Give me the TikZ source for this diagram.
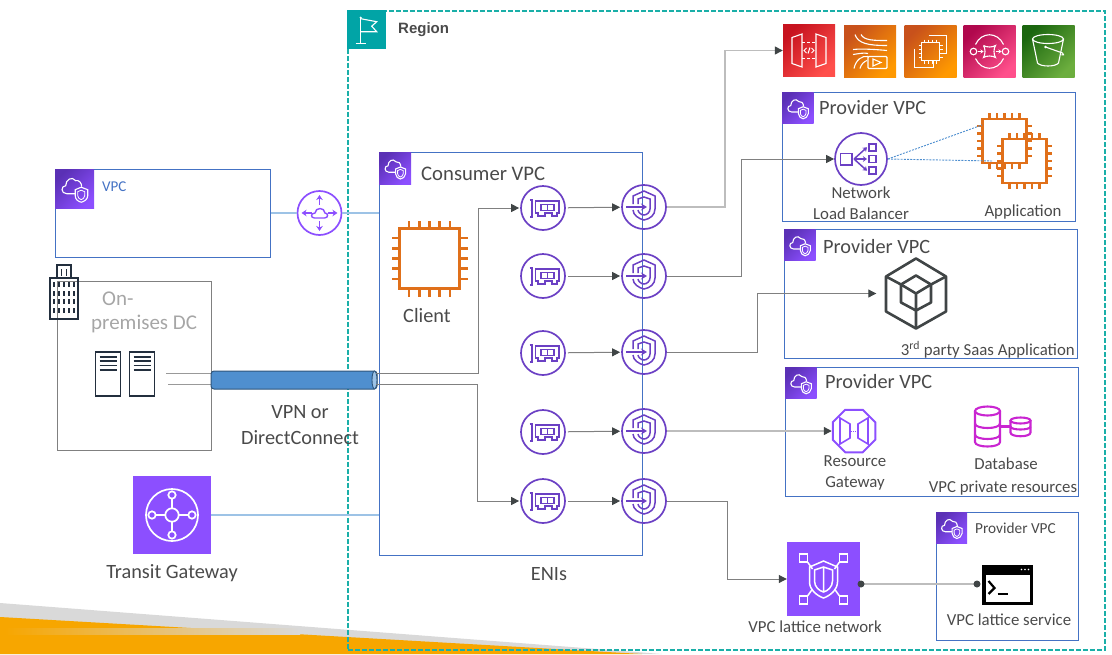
\documentclass[tikz,border=0pt]{standalone}
\usepackage{fontspec}
\setmainfont{Carlito}
\newfontfamily\regionfont{Liberation Sans}
\usetikzlibrary{arrows.meta,calc,positioning,shapes.geometric}
\definecolor{Ink}{HTML}{404546}
\definecolor{LabelGray}{HTML}{4A4A4A}
\definecolor{FadedGray}{HTML}{A6A6A6}
\definecolor{WireGray}{HTML}{808080}
\definecolor{SoftWire}{HTML}{BDBDBD}
\definecolor{BoxBlue}{HTML}{4472C4}
\definecolor{LinkBlue}{HTML}{9DC3E6}
\definecolor{TubeBlue}{HTML}{4F8FCF}
\definecolor{RegionTeal}{HTML}{1AAFA8}
\definecolor{TileTeal}{HTML}{01A4A6}
\definecolor{Violet}{HTML}{8C4FFF}
\definecolor{DeepViolet}{HTML}{5A30B5}
\definecolor{RingViolet}{HTML}{6B40C4}
\definecolor{ChipOrange}{HTML}{E0701A}
\definecolor{Navy}{HTML}{232F3E}
\definecolor{Magenta}{HTML}{C925D1}
\definecolor{Sun}{HTML}{F7A600}
\definecolor{Ash}{HTML}{D9D9D9}
\definecolor{RedLow}{HTML}{C7131F}
\definecolor{RedHigh}{HTML}{FF4F4B}
\definecolor{OrangeLow}{HTML}{C8511B}
\definecolor{OrangeHigh}{HTML}{FF9900}
\definecolor{PinkLow}{HTML}{B0084D}
\definecolor{PinkHigh}{HTML}{FF4F8B}
\definecolor{GreenLow}{HTML}{1B660F}
\definecolor{GreenHigh}{HTML}{6CAE3E}
\tikzset{
  bigtext/.style={font=\fontsize{20.3}{24}\selectfont, text=LabelGray, inner sep=0pt},
  midtext/.style={font=\fontsize{16.8}{20}\selectfont, text=LabelGray, inner sep=0pt},
  vpcbox/.style={draw=BoxBlue, line width=1.4pt, anchor=north west, inner sep=0pt},
  vpctile/.style={anchor=north west, inner sep=0pt, left color=DeepViolet, right color=Violet, shading angle=45},
  flattile/.style={inner sep=0pt, fill=Violet},
  servicetile/.style 2 args={inner sep=0pt, minimum size=52pt, left color=#1, right color=#2, shading angle=45},
  ring/.style={circle, draw=RingViolet, line width=1.7pt, minimum size=44pt, inner sep=0pt},
  glyph/.style={draw=RingViolet, line width=1.5pt},
  whiteglyph/.style={draw=white, line width=1.1pt},
  chipbody/.style={draw=ChipOrange, line width=2.7pt, inner sep=0pt},
  flow/.style={-{Triangle[length=8pt,width=8pt,color=Ink]}, draw=WireGray, line width=1pt},
  softflow/.style={-{Triangle[length=8pt,width=8pt,color=Ink]}, draw=SoftWire, line width=1.4pt},
  wire/.style={draw=WireGray!80, line width=.9pt},
  link/.style={draw=LinkBlue, line width=1.4pt},
  dotted link/.style={draw=TubeBlue, line width=.9pt, dash pattern=on 2pt off 1.2pt},
  vpcglyph/.pic={
    \draw[whiteglyph] (.5,5) -- (-8,5) .. controls (-14,5) and (-14,-3) .. (-9,-3)
      .. controls (-9,-9) and (-3,-13) .. (1,-8) .. controls (4,-9) and (7,-6) .. (7,-2);
    \draw[whiteglyph] (6.5,-1.5) -- (.5,1) -- (.5,7) .. controls (.5,11) and (4,13) .. (6.5,13.5)
      .. controls (9,13) and (13,11) .. (13,7) -- (13,1) -- cycle;
    \draw[draw=white, line width=.8pt] (6.5,1.5) -- (3,3) -- (3,7) .. controls (3,9) and (5,10.5) .. (6.5,11)
      .. controls (8,10.5) and (10,9) .. (10,7) -- (10,3) -- cycle;
  },
  eniglyph/.pic={
    \draw[glyph] (-13.5,-8) -- (-11,-8) -- (-11,9) -- (-13.5,9);
    \draw[glyph] (-7.5,-7) -- (16,-7) -- (16,5) -- (14,5) -- (14,8) -- (9,8) -- (9,5) -- (2,5) -- (2,8) -- (-5,8) -- (-5,5) -- (-7.5,5) -- cycle;
    \draw[glyph] (-2,-3.5) rectangle (11,2.5) (4.5,-3.5) -- (4.5,2.5);
  },
  endpointglyph/.pic={
    \draw[glyph] (-11,-3) -- (-11,-11) -- (0,-16) -- (11,-11) -- (11,2) .. controls (11,8) and (6,12) .. (0,13) .. controls (-5,12) and (-11,8) .. (-11,3);
    \draw[glyph] (-6,-3) -- (-6,-8) -- (0,-10) -- (6,-8) -- (6,2) .. controls (6,5) and (3,8) .. (0,8) .. controls (-3,8) and (-6,5) .. (-6,3);
    \draw[glyph, -{Stealth[length=6pt,width=7pt]}] (-18,0) -- (3,0);
  },
  routerglyph/.pic={
    \foreach \dx/\dy in {0/-1,0/1,-1/0,1/0}
      \draw[draw=Violet, line width=1.6pt, -{Stealth[length=5pt,width=6.5pt]}] (8*\dx,8*\dy) -- (18*\dx,18*\dy);
    \draw[draw=Violet, line width=1.4pt] (-5,5) -- (5,5) .. controls (9,5) and (9,0) .. (5.5,0)
      .. controls (5,-6) and (-4,-6) .. (-4.5,0) .. controls (-9,0) and (-9,5) .. (-5,5);
  },
  flagglyph/.pic={
    \draw[whiteglyph] (-6,-12) -- (-6,14) (-11,14) -- (-1,14);
    \draw[whiteglyph] (-6,-11) -- (10,-8) -- (5,-3.5) -- (10,2) -- (-6,2);
    \fill[white] (-6,-12) circle (1.2pt);
  },
  buildingglyph/.pic={
    \draw[draw=Navy, line width=1.6pt] (-14,-7) rectangle (14,34) (-7,-7) -- (-7,-20) -- (7,-20) -- (7,-7);
    \foreach \bx in {-10,-5,0,5,10}
      \foreach \by in {-3,6,14,23}
        \draw[draw=Navy, line width=1.4pt] (\bx,\by) -- (\bx,\by+5);
    \foreach \bx in {-2.5,2.5}
      \draw[draw=Navy, line width=1.4pt] (\bx,-16) -- (\bx,-9);
  },
  serverglyph/.pic={
    \foreach \by in {-17,-13,-8.5,-4}
      \draw[draw=Navy, line width=1.4pt] (-8.5,\by) -- (8.5,\by);
  },
  gatewayglyph/.pic={
    \draw[draw=white, line width=1.7pt] (0,0) circle (26pt);
    \draw[draw=white, line width=1.7pt] (0,-20) -- (0,20) (-20,0) -- (20,0);
    \foreach \gx/\gy/\gr in {0/0/6.7,0/-20/3.7,0/20/3.7,-20/0/3.7,20/0/3.7}
      \draw[draw=white, fill=Violet, line width=1.7pt] (\gx,\gy) circle (\gr pt);
  },
  latticeglyph/.pic={
    \foreach \lx/\ly in {-1/-1,1/-1,-1/1,1/1} {
      \draw[draw=white, line width=1.5pt] (20*\lx-4,21*\ly-4) rectangle (20*\lx+4,21*\ly+4);
      \draw[draw=white, line width=1.5pt] (16*\lx,17*\ly) -- (11*\lx,10*\ly);
    }
    \draw[draw=white, line width=1.5pt] (0,-18) -- (14,-12) -- (14,3) .. controls (14,11) and (6,17) .. (0,19) .. controls (-6,17) and (-14,11) .. (-14,3) -- (-14,-12) -- cycle;
    \draw[draw=white, line width=1.5pt] (0,-12) -- (9,-9) -- (9,2) .. controls (9,8) and (4,12) .. (0,13) .. controls (-4,12) and (-9,8) .. (-9,2) -- (-9,-9) -- cycle (0,-12) -- (0,13);
  },
  apiglyph/.pic={
    \draw[whiteglyph] (-17,-13) -- (-7,-16.5) -- (-7,16.5) -- (-17,13) -- cycle;
    \draw[whiteglyph] (17,-13) -- (7,-16.5) -- (7,16.5) -- (17,13) -- cycle;
    \draw[whiteglyph, densely dashed] (-7,-8) -- (7,-8) (-7,8) -- (7,8);
    \draw[draw=white, line width=1pt] (-2.5,-2.5) -- (-5,0) -- (-2.5,2.5) (2.5,-2.5) -- (5,0) -- (2.5,2.5) (1,-3) -- (-1,3);
  },
  streamglyph/.pic={
    \draw[whiteglyph] (-15,-17) .. controls (-12,-8) and (-2,-6) .. (17,-6);
    \draw[whiteglyph] (-9,-17) .. controls (-6,-11) and (4,-11) .. (17,-11);
    \draw[whiteglyph] (-17,-2) .. controls (-8,-3) and (6,-2) .. (17,-1);
    \draw[whiteglyph] (-17,3) .. controls (-10,2) and (-6,1) .. (-2,2);
    \draw[whiteglyph] (-16,17) .. controls (-14,8) and (-8,4) .. (-2,5);
    \draw[whiteglyph] (-10,17) .. controls (-9,13) and (-6,10) .. (-3,9);
    \draw[whiteglyph, rounded corners=1pt] (-2,5) rectangle (17,17);
    \draw[whiteglyph] (3,7.5) -- (3,14.5) -- (11,11) -- cycle;
  },
  computeglyph/.pic={
    \draw[whiteglyph] (-2,-16) -- (16,-16) -- (16,2) -- (9,2);
    \draw[whiteglyph] (-16,-3) -- (-16,16) -- (3,16) -- (3,9);
    \draw[whiteglyph] (-9,-9) rectangle (9,9);
    \foreach \cx in {-6,-2,2,6}
      \draw[draw=white, line width=.9pt] (\cx,-12) -- (\cx,-9) (\cx,9) -- (\cx,12) (-12,\cx) -- (-9,\cx) (9,\cx) -- (12,\cx);
  },
  queueglyph/.pic={
    \draw[whiteglyph] (-14,-7) .. controls (-8,-20) and (8,-20) .. (14,-7);
    \draw[whiteglyph] (-14,7) .. controls (-8,20) and (8,20) .. (14,7);
    \draw[whiteglyph] (16,0) circle (3.3pt) (-16,0) circle (3.3pt);
    \draw[whiteglyph] (-6,-6) .. controls (-3,-4) and (3,-4) .. (6,-6) .. controls (4,-3) and (4,3) .. (6,6) .. controls (3,4) and (-3,4) .. (-6,6) .. controls (-4,3) and (-4,-3) .. (-6,-6);
    \draw[draw=white, line width=1pt, -{Stealth[length=3pt,width=4pt]}] (-12,0) -- (-6,0);
    \draw[draw=white, line width=1pt, -{Stealth[length=3pt,width=4pt]}] (6,0) -- (12,0);
  },
  bucketglyph/.pic={
    \draw[whiteglyph] (-.5,-12) ellipse [x radius=15.5pt, y radius=4.5pt];
    \draw[whiteglyph] (-16,-12) -- (-11,12) .. controls (-8,16) and (7,16) .. (10,12) -- (15,-12);
    \draw[whiteglyph] (-3,-4) -- (14,2) .. controls (16,3) and (15,5) .. (13,4);
    \fill[white] (-3,-4) circle (1.3pt);
  },
  chippins/.pic={
    \foreach \cp in {-20.4,-10.2,0,10.2,20.4}
      \draw[draw=ChipOrange, line width=2.7pt] (\cp,-30) -- (\cp,-38) (\cp,30) -- (\cp,38) (-30,\cp) -- (-38,\cp) (30,\cp) -- (38,\cp);
  },
  saasglyph/.pic={
    \draw[draw=Ink, line width=2.6pt, line join=round] (0,-35) -- (30,-17) -- (30,18) -- (0,35) -- (-30,18) -- (-30,-17) -- cycle;
    \draw[draw=Ink, line width=2.6pt, line join=round] (0,-18) -- (15,-9) -- (15,9) -- (0,17) -- (-15,9) -- (-15,-9) -- cycle;
    \draw[draw=Ink, line width=2.6pt] (-30,-17) -- (-15,-9) -- (0,0) -- (15,-9) -- (30,-17) (0,0) -- (0,35);
  },
  rgwglyph/.pic={
    \draw[draw=Violet, line width=1.6pt] (-14,-13) -- (-4,-7) -- (-4,7) -- (-14,13) -- cycle;
    \draw[draw=Violet, line width=1.6pt] (14,-13) -- (4,-7) -- (4,7) -- (14,13) -- cycle;
    \draw[draw=Violet, line width=1pt, dash pattern=on 1pt off 1pt] (-3,0) -- (3,0);
  },
  dbstack/.pic={
    \draw[draw=Magenta, line width=2.1pt] (0,-15.5) ellipse [x radius=12.5pt, y radius=4.5pt];
    \draw[draw=Magenta, line width=2.1pt] (-12.5,-15.5) -- (-12.5,15.5) .. controls (-12.5,21.5) and (12.5,21.5) .. (12.5,15.5) -- (12.5,-15.5);
    \draw[draw=Magenta, line width=2.1pt] (-12.5,-3) .. controls (-12.5,3) and (12.5,3) .. (12.5,-3);
    \draw[draw=Magenta, line width=2.1pt] (-12.5,8) .. controls (-12.5,14) and (12.5,14) .. (12.5,8);
    \draw[draw=Magenta, line width=2.1pt] (33,-6) ellipse [x radius=10pt, y radius=3pt];
    \draw[draw=Magenta, line width=2.1pt] (23,-6) -- (23,6) .. controls (23,11) and (43,11) .. (43,6) -- (43,-6);
    \draw[draw=Magenta, line width=2.1pt] (23,0) .. controls (23,4) and (43,4) .. (43,0);
    \draw[draw=Magenta, line width=2.1pt] (12.5,0) -- (23,0);
  },
  termglyph/.pic={
    \fill[white] (-22,-10) rectangle (22,16.5);
    \foreach \tx in {15,18.5,22}
      \fill[white] (\tx-1,-15.5) circle (.9pt);
    \draw[draw=black, line width=2.2pt] (-19,-4) -- (-13,3) -- (-19,9);
    \draw[draw=black, line width=2.2pt] (-10,9) -- (0,9);
  }
}
\begin{document}
\begin{tikzpicture}[x=1pt,y=-1pt]
  \useasboundingbox (0,0) rectangle (1112,654);
  \fill[Ash] (0,603) -- (662,654) -- (0,654) -- cycle;
  \fill[Sun] (0,617) -- (642,654) -- (0,654) -- cycle;
  \shade[left color=Sun, middle color=Sun!55!white, right color=Ash] (5,628) rectangle (300,634);

  \node[draw=RegionTeal, line width=1.8pt, dash pattern=on 5pt off 2pt, anchor=north west, inner sep=0pt, minimum width=757pt, minimum height=639pt] (region) at (347,10) {};
  \node[anchor=north west, fill=TileTeal, minimum size=39pt, inner sep=0pt] (flag) at (347,10) {};
  \pic at (flag) {flagglyph};
  \node[anchor=west, inner sep=0pt, font=\regionfont\fontsize{15}{17}\selectfont\bfseries, text=LabelGray] (regionlabel) at (398,30) {Region};

  \node[vpcbox, minimum width=215pt, minimum height=88pt] (vpc) at (55,169) {};
  \node[vpctile, minimum size=39pt] (vpctag) at (vpc.north west) {};
  \pic at (vpctag) {vpcglyph};
  \node[anchor=west, inner sep=0pt, font=\fontsize{15}{17}\selectfont, text=BoxBlue] (vpclabel) at (102,187) {VPC};

  \node[draw=WireGray, line width=1.4pt, anchor=north west, inner sep=0pt, minimum width=154pt, minimum height=169pt] (dc) at (57,281) {};
  \pic at (64,285) {buildingglyph};
  \node[bigtext, font=\fontsize{21}{24}\selectfont, text=FadedGray, anchor=west] (onlabel) at (102,299) {On-};
  \node[bigtext, font=\fontsize{21}{24}\selectfont, text=FadedGray, anchor=west] (premlabel) at (91,324) {premises DC};
  \foreach \n/\x in {1/108,2/142} {
    \node[draw=Navy, line width=1.5pt, minimum width=25pt, minimum height=44pt, inner sep=0pt] (server\n) at (\x,374) {};
    \pic at (\x,374) {serverglyph};
  }

  \node[vpcbox, minimum width=263pt, minimum height=403pt] (consumer) at (379,152) {};
  \node[vpctile, minimum size=32pt] (consumertag) at (consumer.north west) {};
  \pic[scale=.8] at (consumertag) {vpcglyph};
  \node[bigtext, font=\fontsize{20.7}{24}\selectfont, anchor=west] (consumerlabel) at (421,174) {Consumer VPC};

  \node[chipbody, minimum size=60pt] (client) at (429.5,258.5) {};
  \pic at (client) {chippins};
  \node[bigtext] (clientlabel) at (427,316) {Client};

  \node[ring, draw=Violet] (router) at (319.5,213) {};
  \pic at (router) {routerglyph};
  \draw[link] (vpc.east |- router) -- (router);
  \draw[link] (router) -- (consumer.west |- router);

  \node[flattile, minimum size=78pt] (tgw) at (172,515) {};
  \pic at (tgw) {gatewayglyph};
  \node[bigtext] (tgwlabel) at (172,573) {Transit Gateway};
  \draw[link] (tgw.east) -- (tgw.east -| consumer.west);

  \coordinate (dcin1) at (166,373);
  \coordinate (dcin2) at (168,384);
  \coordinate (vpnin1) at (212,373);
  \coordinate (vpnin2) at (212,384);
  \coordinate (vpnout1) at (376,373);
  \coordinate (vpnout2) at (376,384);
  \draw[wire] (dcin1) -- (vpnin1);
  \draw[wire] (dcin2) -- (vpnin2);
  \node[draw=TubeBlue!60!black, fill=TubeBlue, line width=1pt, rounded corners=3pt, inner sep=0pt, minimum width=166pt, minimum height=18pt] (vpn) at (294,380) {};
  \node[ellipse, draw=TubeBlue!60!black, fill=LinkBlue, line width=.9pt, inner sep=0pt, minimum width=5pt, minimum height=18pt] (vpnend) at (374.5,380) {};
  \node[bigtext, align=center, text depth=0pt] (vpnlabel) at (300,425) {VPN or\\[2pt]DirectConnect};

  \foreach \n/\ya/\yb in {1/208/207,2/276/276,3/353/352,4/432/431,5/501/501} {
    \node[ring] (eni\n) at (543,\ya) {};
    \pic at (eni\n) {eniglyph};
    \node[ring] (ep\n) at (644,\yb) {};
    \pic at (ep\n) {endpointglyph};
    \draw[flow, shorten <=2pt, shorten >=1pt] (eni\n) -- (ep\n);
  }
  \node[bigtext] (enilabel) at (549,574) {ENIs};
  \draw[flow, shorten >=1pt] (vpnout1) -- (478,373) |- (eni1);
  \draw[flow, shorten >=1pt] (vpnout2) -- (477,384) |- (eni5);

  \node[servicetile={RedLow}{RedHigh}] (api) at (809,50.5) {};
  \pic at (api) {apiglyph};
  \node[servicetile={OrangeLow}{OrangeHigh}] (stream) at (870,51.5) {};
  \pic at (stream) {streamglyph};
  \node[servicetile={OrangeLow}{OrangeHigh}] (compute) at (930.5,51.5) {};
  \pic at (compute) {computeglyph};
  \node[servicetile={PinkLow}{PinkHigh}] (queue) at (989.5,51.5) {};
  \pic at (queue) {queueglyph};
  \node[servicetile={GreenLow}{GreenHigh}] (bucket) at (1048.5,51) {};
  \pic at (bucket) {bucketglyph};

  \foreach \n/\x/\y/\lx/\ly in {1/782/92/819/108,2/784/229/823/247,3/785/367/825/382} {
    \node[vpcbox, minimum width=293pt, minimum height=129pt] (provider\n) at (\x,\y) {};
    \node[vpctile, minimum size=31.5pt] (provider\n tag) at (provider\n.north west) {};
    \pic[scale=.8] at (provider\n tag) {vpcglyph};
    \node[bigtext, anchor=west] (provider\n label) at (\lx,\ly) {Provider VPC};
  }
  \node[vpcbox, minimum width=142pt, minimum height=128pt] (provider4) at (936,512) {};
  \node[vpctile, minimum size=31pt] (provider4tag) at (provider4.north west) {};
  \pic[scale=.8] at (provider4tag) {vpcglyph};
  \node[anchor=west, inner sep=0pt, font=\fontsize{15.3}{18}\selectfont, text=LabelGray] (provider4label) at (975,528) {Provider VPC};

  \node[ring, minimum size=52pt] (nlb) at (861,159) {};
  \draw[glyph] (nlb.center) ++(-20.7,-5.5) rectangle ++(11.5,11.5);
  \foreach \dy in {-11.7,0,11.7} {
    \draw[glyph] ($(nlb.center)+(8,\dy)+(0,-3.5)$) rectangle ++(7,7);
    \draw[glyph, -{Stealth[length=4pt,width=5.5pt]}] ($(nlb.center)+(-7,0)$) -- ($(nlb.center)+(6,\dy)$);
  }
  \node[midtext, align=center] (nlblabel) at (861,203) {Network\\[1pt]Load Balancer};
  \node[chipbody, line width=2.2pt, minimum size=44pt] (appa) at (1004.5,141) {};
  \pic[scale=.73] at (appa) {chippins};
  \node[chipbody, line width=2.2pt, minimum size=44pt] (appb) at (1024.5,161) {};
  \pic[scale=.73] at (appb) {chippins};
  \node[midtext] (applabel) at (1023,212) {Application};
  \coordinate (appaport) at (982,125);
  \coordinate (appbport) at (993,161);
  \draw[dotted link] (nlb.east) -- (appaport);
  \draw[dotted link] (nlb.east) -- (appbport);

  \node[minimum width=79pt, minimum height=70pt, inner sep=0pt] (saas) at (916,293.5) {};
  \pic at (saas) {saasglyph};
  \node[midtext, anchor=east] (saaslabel) at (1075,350) {3\textsuperscript{rd} party Saas Application};

  \node[regular polygon, regular polygon sides=8, draw=Violet, line width=2pt, minimum size=46pt, inner sep=0pt] (rgw) at (854,431) {};
  \pic at (rgw) {rgwglyph};
  \node[midtext, align=center] (rgwlabel) at (855,473) {Resource\\[1pt]Gateway};
  \node[inner sep=0pt, minimum width=57pt, minimum height=41pt] (db) at (1003,426.5) {};
  \pic at (987.5,426.5) {dbstack};
  \node[midtext] (dblabel) at (1006,464) {Database};
  \node[midtext] (dbnote) at (1003,488) {VPC private resources};

  \node[flattile, minimum width=73pt, minimum height=74pt] (lattice) at (823.5,579) {};
  \pic at (lattice) {latticeglyph};
  \node[midtext] (latticelabel) at (815,627) {VPC lattice network};
  \node[fill=black, inner sep=0pt, minimum width=51pt, minimum height=40pt] (terminal) at (1007.5,585) {};
  \pic at (terminal) {termglyph};
  \node[midtext] (terminallabel) at (1009,620) {VPC lattice service};
  \coordinate (latticeport) at (861,584);
  \coordinate (terminalport) at (977,584);
  \draw[draw=SoftWire, line width=1.4pt] (latticeport) -- (terminalport);
  \fill[Ink] (latticeport) circle (3.5pt) (terminalport) circle (3.5pt);

  \draw[softflow] (ep1) -- (725,207) |- (api);
  \draw[flow] (ep2) -- (741,276) |- (nlb);
  \draw[flow] (ep3) -- (757,352) |- (saas);
  \draw[softflow] (ep4) -- (rgw);
  \draw[flow] (ep5) -- (727,501) |- (lattice);
\end{tikzpicture}
\end{document}
